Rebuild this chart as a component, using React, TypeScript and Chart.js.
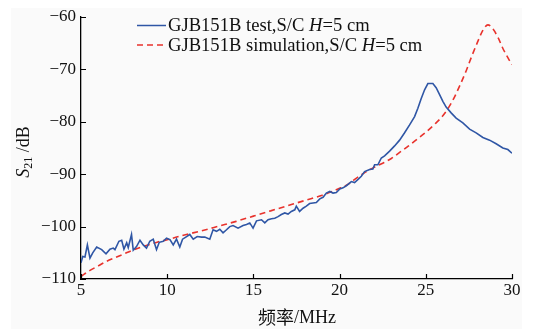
import React, { useEffect, useRef } from "react";
import { Chart, registerables } from "chart.js";
Chart.register(...registerables);

// Measured S21 (test)
const testFreq = [5.0, 5.1, 5.23, 5.37, 5.52, 5.68, 5.91, 6.2, 6.45, 6.68, 6.87, 6.97, 7.2, 7.36, 7.49, 7.65, 7.74, 7.93, 8.03, 8.22, 8.42, 8.61, 8.8, 8.99, 9.19, 9.38, 9.54, 9.77, 9.96, 10.16, 10.35, 10.54, 10.73, 10.89, 11.08, 11.31, 11.51, 11.74, 11.99, 12.18, 12.47, 12.66, 12.86, 13.05, 13.24, 13.44, 13.63, 13.82, 14.11, 14.4, 14.6, 14.79, 14.98, 15.18, 15.47, 15.66, 15.85, 16.05, 16.24, 16.43, 16.62, 16.82, 17.01, 17.2, 17.4, 17.49, 17.68, 17.88, 18.07, 18.26, 18.46, 18.65, 18.85, 19.04, 19.23, 19.43, 19.62, 19.81, 20.01, 20.2, 20.39, 20.58, 20.68, 20.87, 21.07, 21.26, 21.45, 21.74, 21.93, 22.03, 22.22, 22.42, 22.61, 22.9, 23.19, 23.48, 23.77, 24.06, 24.35, 24.54, 24.73, 24.93, 25.12, 25.41, 25.6, 25.8, 25.99, 26.18, 26.47, 26.76, 27.15, 27.54, 27.92, 28.31, 28.7, 29.08, 29.47, 29.76, 30.0];
const testS21 = [-106.9, -105.7, -105.8, -103.5, -106.0, -105.0, -103.9, -104.4, -105.2, -104.3, -104.1, -104.4, -102.8, -102.6, -104.3, -103.1, -104.0, -101.5, -104.5, -103.8, -102.6, -103.5, -104.1, -102.8, -102.4, -104.4, -103.0, -102.8, -102.2, -102.5, -103.5, -102.4, -103.9, -102.4, -102.0, -101.5, -102.4, -101.9, -102.0, -102.0, -102.4, -100.6, -100.9, -100.5, -101.2, -100.6, -100.0, -99.8, -100.3, -99.8, -99.6, -99.3, -100.3, -98.9, -98.7, -99.3, -98.7, -98.5, -98.4, -98.1, -97.7, -97.4, -97.6, -97.1, -96.8, -96.1, -97.1, -96.5, -96.1, -95.6, -95.5, -95.4, -94.7, -94.4, -93.6, -93.3, -93.6, -93.5, -92.8, -92.6, -92.2, -91.7, -91.4, -91.6, -91.0, -90.4, -89.5, -89.1, -89.0, -88.2, -88.2, -86.9, -86.5, -85.6, -84.6, -83.5, -82.1, -80.6, -79.0, -77.4, -75.6, -73.9, -72.7, -72.7, -73.5, -74.8, -76.1, -77.2, -78.3, -79.3, -80.2, -81.4, -82.1, -83.0, -83.5, -84.2, -85.0, -85.3, -86.0];

// Simulated S21
const simFreq = [5, 5.5, 6, 6.5, 7, 7.5, 8, 8.5, 9, 9.5, 10, 11, 12, 13, 14, 15, 16, 17, 18, 19, 20, 20.5, 21, 21.5, 22, 22.5, 23, 23.5, 24, 24.5, 25, 25.5, 26, 26.5, 27, 27.35, 27.7, 28, 28.3, 28.6, 28.9, 29.2, 29.5, 29.8, 30];
const simS21 = [-109.5, -108.4, -107.5, -106.6, -105.9, -105.2, -104.5, -103.9, -103.4, -102.9, -102.5, -101.6, -100.8, -99.9, -99.0, -98.0, -97.0, -96.0, -95.0, -94.0, -92.7, -91.9, -90.7, -89.6, -88.7, -87.9, -87.0, -85.8, -84.6, -83.3, -82.0, -80.5, -78.8, -76.3, -72.9, -70.2, -67.2, -64.8, -62.6, -61.5, -62.3, -64.0, -66.2, -68.0, -69.1];

const xTicks = [5, 10, 15, 20, 25, 30];
const yTicks = [-110, -100, -90, -80, -70, -60];
const seriesLabels = ["GJB151B test,S/C ", "GJB151B simulation,S/C "];

const BLUE = "#2f56a5";
const RED = "#e8322c";
const SERIF = "'Liberation Serif', 'Times New Roman', serif";

function drawRich(ctx: CanvasRenderingContext2D, parts: { t: string; f: string; dy?: number }[], x: number, y: number) {
  let cx = x;
  for (const p of parts) {
    ctx.font = p.f;
    ctx.fillText(p.t, cx, y + (p.dy || 0));
    cx += ctx.measureText(p.t).width;
  }
  return cx;
}

const decorPlugin = {
  id: "decor",
  beforeDraw(chart: any) {
    const ctx = chart.ctx as CanvasRenderingContext2D;
    ctx.save();
    ctx.fillStyle = "#ffffff";
    ctx.fillRect(0, 0, chart.width, chart.height);
    ctx.fillStyle = "#fafafa";
    ctx.fillRect(11, 8, 511, 321);
    ctx.restore();
  },
  afterDraw(chart: any) {
    const ctx = chart.ctx as CanvasRenderingContext2D;
    const xs = chart.scales.x;
    const ys = chart.scales.y;
    const ca = chart.chartArea;
    ctx.save();
    // inward ticks
    ctx.strokeStyle = "#000";
    ctx.lineWidth = 1.2;
    ctx.beginPath();
    for (const v of xTicks) {
      const px = Math.round(xs.getPixelForValue(v)) + 0.5;
      ctx.moveTo(px, ca.bottom);
      ctx.lineTo(px, ca.bottom - 5);
    }
    for (const v of yTicks) {
      const py = Math.round(ys.getPixelForValue(v)) + 0.5;
      ctx.moveTo(ca.left, py);
      ctx.lineTo(ca.left + 5, py);
    }
    ctx.stroke();

    ctx.fillStyle = "#111";
    ctx.textBaseline = "middle";
    // x title
    ctx.font = "18px 'Noto Sans CJK SC'";
    const cjk = "频率";
    const w1 = ctx.measureText(cjk).width;
    ctx.font = "18px " + SERIF;
    const rest = "/MHz";
    const w2 = ctx.measureText(rest).width;
    const tx = 297 - (w1 + w2) / 2;
    ctx.font = "18px 'Noto Sans CJK SC'";
    ctx.fillText(cjk, tx, 317);
    ctx.font = "18px " + SERIF;
    ctx.fillText(rest, tx + w1, 318);

    // y title
    ctx.save();
    ctx.translate(24, 152);
    ctx.rotate(-Math.PI / 2);
    const yparts = [
      { t: "S", f: "italic 18px " + SERIF },
      { t: "21", f: "12px " + SERIF, dy: 5 },
      { t: " /dB", f: "18px " + SERIF },
    ];
    let tw = 0;
    for (const p of yparts) { ctx.font = p.f; tw += ctx.measureText(p.t).width; }
    drawRich(ctx, yparts, -tw / 2, 0);
    ctx.restore();

    // legend
    const rows = [
      { y: 25.5, dash: [] as number[], label: seriesLabels[0], c: BLUE },
      { y: 45, dash: [6, 4], label: seriesLabels[1], c: RED },
    ];
    for (const r of rows) {
      ctx.strokeStyle = r.c;
      ctx.lineWidth = 1.5;
      ctx.setLineDash(r.dash);
      ctx.beginPath();
      ctx.moveTo(137, r.y);
      ctx.lineTo(166, r.y);
      ctx.stroke();
      ctx.setLineDash([]);
      ctx.fillStyle = "#111";
      drawRich(ctx, [
        { t: r.label, f: "18.6px " + SERIF },
        { t: "H", f: "italic 18.6px " + SERIF },
        { t: "=5 cm", f: "18.6px " + SERIF },
      ], 168, r.y + 1);
    }
    ctx.restore();
  },
};

const fmt = (v: number) => (v < 0 ? "\u2212" + Math.abs(v) : String(v));

export default function App() {
  const ref = useRef<HTMLCanvasElement | null>(null);
  useEffect(() => {
    document.body.style.margin = "0";
    const canvas = ref.current!;
    const chart = new Chart(canvas, {
      type: "line",
      data: {
        datasets: [
          {
            label: seriesLabels[0],
            data: testFreq.map((f, i) => ({ x: f, y: testS21[i] })),
            borderColor: BLUE,
            borderWidth: 1.6,
            pointRadius: 0,
            tension: 0,
          },
          {
            label: seriesLabels[1],
            data: simFreq.map((f, i) => ({ x: f, y: simS21[i] })),
            borderColor: RED,
            borderWidth: 1.6,
            borderDash: [6, 4],
            pointRadius: 0,
            cubicInterpolationMode: "monotone",
          },
        ],
      },
      options: {
        responsive: false,
        animation: false,
        layout: { padding: { left: 0, top: 17, right: 21, bottom: 0 } },
        plugins: { legend: { display: false }, tooltip: { enabled: false } },
        scales: {
          x: {
            type: "linear",
            min: 5,
            max: 30,
            afterBuildTicks: (s: any) => { s.ticks = xTicks.map((v) => ({ value: v })); },
            afterFit: (s: any) => { s.height = 50; },
            ticks: { font: { family: SERIF, size: 17 }, color: "#111", padding: 1, maxRotation: 0, callback: (v: any) => fmt(Number(v)) },
            grid: { display: false, drawTicks: false },
            border: { display: true, color: "#000", width: 1.3 },
          },
          y: {
            min: -110,
            max: -60,
            afterBuildTicks: (s: any) => { s.ticks = yTicks.map((v) => ({ value: v })); },
            afterFit: (s: any) => { s.width = 81; },
            ticks: { font: { family: SERIF, size: 17 }, color: "#111", padding: 5, callback: (v: any) => fmt(Number(v)) },
            grid: { display: false, drawTicks: false },
            border: { display: true, color: "#000", width: 1.3 },
          },
        },
      },
      plugins: [decorPlugin],
    } as any);
    return () => chart.destroy();
  }, []);
  return (
    <div style={{ position: "relative", width: 533, height: 329 }}>
      <canvas ref={ref} width={533} height={329} style={{ display: "block" }} />
    </div>
  );
}
